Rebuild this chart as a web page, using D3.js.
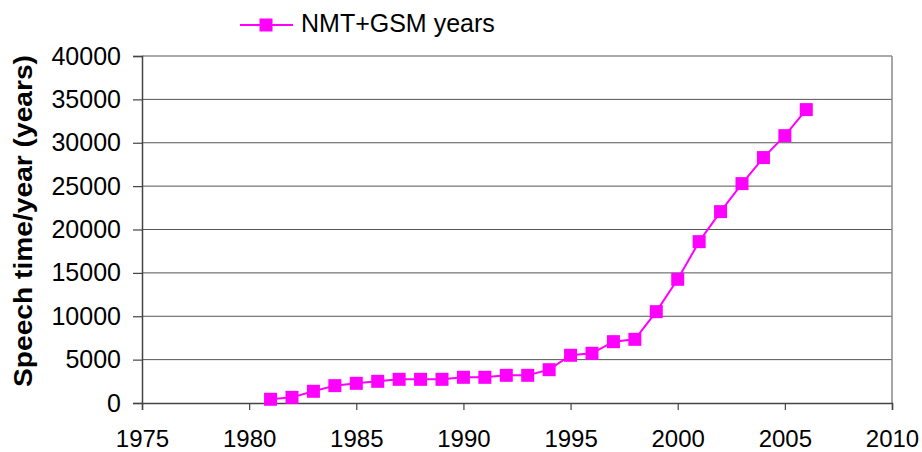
<!DOCTYPE html>
<html>
<head>
<meta charset="utf-8">
<style>
    body { margin: 0; background: #fff; }
    text { font-family: 'Liberation Sans', Arial, sans-serif; fill: #000; }
</style>
</head>
<body>
<div id='chart'></div>
<script src='https://cdn.jsdelivr.net/npm/d3@7'></script>
<script>
    var width = 922,
        height = 452;

    // speech time per year, NMT+GSM
    var years = [1981, 1982, 1983, 1984, 1985, 1986, 1987, 1988, 1989, 1990, 1991, 1992, 1993,
                 1994, 1995, 1996, 1997, 1998, 1999, 2000, 2001, 2002, 2003, 2004, 2005, 2006];
    var speech = [430, 650, 1350, 2000, 2270, 2500, 2730, 2730, 2730, 2960, 2960, 3190, 3190,
                  3840, 5500, 5730, 7070, 7340, 10530, 14260, 18600, 22060, 25290, 28290, 30820, 33820];
    var xTicks = [1975, 1980, 1985, 1990, 1995, 2000, 2005, 2010];
    var yTicks = [0, 5000, 10000, 15000, 20000, 25000, 30000, 35000, 40000];
    var seriesName = 'NMT+GSM years';

    var margin = {top: 56, right: 30, bottom: 49, left: 142};

    var x = d3.scaleLinear()
        .domain([1975, 2010])
        .range([margin.left, width - margin.right]);

    var y = d3.scaleLinear()
        .domain([0, 40000])
        .range([height - margin.bottom, margin.top]);

    var svg = d3.select('#chart')
        .append('svg')
        .attr('width', width)
        .attr('height', height);

    // gridlines
    svg.selectAll('line.grid')
        .data(yTicks.slice(1))
        .enter().append('line')
        .attr('class', 'grid')
        .attr('x1', x(1975)).attr('x2', x(2010))
        .attr('y1', function(d){ return y(d); })
        .attr('y2', function(d){ return y(d); })
        .style('stroke', '#555')
        .style('stroke-width', 1);

    // right border
    svg.append('line')
        .attr('x1', x(2010)).attr('x2', x(2010))
        .attr('y1', y(40000)).attr('y2', y(0))
        .style('stroke', '#888')
        .style('stroke-width', 1.5);

    var yAxis = svg.append('g')
        .attr('transform', 'translate(' + margin.left + ',0)')
        .call(d3.axisLeft(y).tickValues(yTicks).tickSize(9).tickPadding(12).tickFormat(d3.format('d')));

    var xAxis = svg.append('g')
        .attr('transform', 'translate(0,' + y(0) + ')')
        .call(d3.axisBottom(x).tickValues(xTicks).tickSize(7).tickPadding(20).tickFormat(d3.format('d')));

    [yAxis, xAxis].forEach(function(a){
        a.select('.domain').style('stroke', '#444').style('stroke-width', 1.5);
        a.selectAll('.tick line').style('stroke', '#444').style('stroke-width', 1.2);
        a.selectAll('text').style('font-family', "'Liberation Sans', Arial, sans-serif").attr('fill', '#000');
    });
    yAxis.selectAll('text').style('font-size', '25px');
    xAxis.selectAll('text').style('font-size', '24px');

    // axis title
    svg.append('text')
        .attr('transform', 'translate(32,221) rotate(-90)')
        .attr('text-anchor', 'middle')
        .attr('textLength', 332)
        .attr('lengthAdjust', 'spacingAndGlyphs')
        .style('font-size', '25px')
        .style('font-weight', 'bold')
        .text('Speech time/year (years)');

    var data = years.map(function(d, i){ return {year: d, value: speech[i]}; });

    var line = d3.line()
        .x(function(d){ return x(d.year); })
        .y(function(d){ return y(d.value); });

    svg.append('path')
        .datum(data)
        .attr('d', line)
        .style('fill', 'none')
        .style('stroke', '#ff00ff')
        .style('stroke-width', 2);

    var m = 13;
    svg.selectAll('rect.pt')
        .data(data)
        .enter().append('rect')
        .attr('class', 'pt')
        .attr('x', function(d){ return x(d.year) - m / 2; })
        .attr('y', function(d){ return y(d.value) - m / 2; })
        .attr('width', m).attr('height', m)
        .style('fill', '#ff00ff');

    // legend
    var legend = svg.append('g').attr('transform', 'translate(240,25)');
    legend.append('line')
        .attr('x1', 0).attr('x2', 53)
        .style('stroke', '#ff00ff').style('stroke-width', 2);
    legend.append('rect')
        .attr('x', 26 - m / 2).attr('y', -m / 2)
        .attr('width', m).attr('height', m)
        .style('fill', '#ff00ff');
    legend.append('text')
        .attr('x', 61).attr('y', 7)
        .style('font-size', '25px')
        .text(seriesName);
</script>
</body>
</html>
